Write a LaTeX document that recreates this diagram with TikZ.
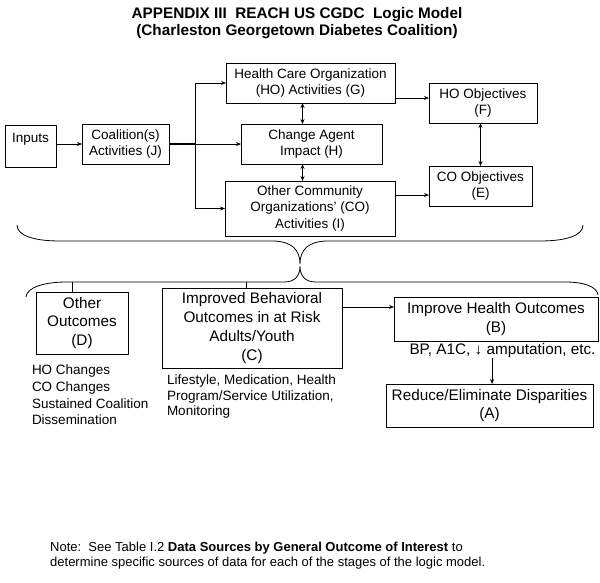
\documentclass[tikz,border=0pt]{standalone}
\usepackage{fontspec}
\setmainfont{Liberation Sans}
\usetikzlibrary{arrows.meta,calc}
\tikzset{
  boxs/.style={draw, line width=0.8pt, inner sep=0pt, outer sep=0pt, align=center,
    font=\fontsize{13.5}{16.5}\selectfont},
  boxl/.style={boxs, font=\fontsize{15.3}{18.7}\selectfont},
  txts/.style={inner sep=0pt, outer sep=0pt, align=left, font=\fontsize{13.5}{16.6}\selectfont},
  link/.style={line width=0.8pt, -{Stealth[length=5pt,width=4pt]}},
  dlink/.style={line width=0.8pt, {Stealth[length=5pt,width=4pt]}-{Stealth[length=5pt,width=4pt]}},
  plainln/.style={line width=0.8pt},
  bracecurve/.style={line width=0.8pt},
}
\begin{document}
\begin{tikzpicture}[x=1pt,y=-1pt]
\fill[white] (0,0) rectangle (600,583);
\useasboundingbox (0,0) rectangle (600,583);

% title
\node[inner sep=0pt, align=center, font=\bfseries\fontsize{15.3}{17}\selectfont] (title) at (297,23.5)
  {APPENDIX III\ \ REACH US CGDC\ \ Logic Model\\(Charleston Georgetown Diabetes Coalition)};

% upper boxes
\node[boxs, minimum width=51pt, minimum height=42pt] (inputs) at (30.5,146) {Inputs\\\mbox{}};
\node[boxs, minimum width=87pt, minimum height=40pt] (coal) at (125.5,144) {Coalition(s)\\Activities (J)};
\node[boxs, minimum width=169pt, minimum height=40pt] (g) at (310.5,83) {Health Care Organization\\(HO) Activities (G)};
\node[boxs, minimum width=141pt, minimum height=40pt] (h) at (311.5,144) {Change Agent\\Impact (H)};
\node[boxs, minimum width=170pt, minimum height=55pt] (i) at (310,208.5) {Other Community\\Organizations' (CO)\\Activities (I)};
\node[boxs, minimum width=108pt, minimum height=40pt] (f) at (483,103) {HO Objectives\\(F)};
\node[boxs, minimum width=103pt, minimum height=40pt] (e) at (480.5,186) {CO Objectives\\(E)};

% upper connectors
\coordinate (split) at (195,144);
\draw[link] (inputs.east |- coal.west) -- (coal.west);
\draw[line width=1.6pt] (coal.east) -- (split);
\draw[plainln] (split |- g.west) -- (split |- i.west);
\draw[link] (split |- g.west) -- (g.west);
\draw[link] (split) -- (h.west);
\draw[link] (split |- i.west) -- (i.west);
\draw[dlink] ([xshift=-9pt]h.north |- g.south) -- ([xshift=-9pt]h.north);
\draw[dlink] ([xshift=-9pt]h.south) -- ([xshift=-9pt]h.south |- i.north);
\draw[link] ([yshift=5pt]g.south east) -- ([yshift=5pt]g.south east -| f.west);
\draw[link] ([yshift=-9pt]e.west -| i.east) -- ([yshift=-9pt]e.west);
\draw[dlink] (e.north |- f.south) -- (e.north);

% braces
\draw[bracecurve] (17,225) .. controls (17,236) and (35,241) .. (60,241) -- (272,241)
  .. controls (292,241) and (300,250) .. (300,264)
  .. controls (300,250) and (308,241) .. (328,241) -- (540,241)
  .. controls (565,241) and (583,236) .. (583,225);
\draw[bracecurve] (26,297) .. controls (27,287) and (45,282) .. (67,282) -- (284,282)
  .. controls (295,282) and (300,276) .. (300,266)
  .. controls (300,276) and (305,282) .. (316,282) -- (565,282)
  .. controls (585,282) and (597,287) .. (598,295);

% lower boxes
\node[boxl, minimum width=92pt, minimum height=62pt] (d) at (82,323) {Other\\Outcomes\\(D)};
\node[boxl, minimum width=180pt, minimum height=80pt] (c) at (252,328) {Improved Behavioral\\Outcomes in at Risk\\Adults/Youth\\(C)};
\node[boxl, minimum width=204pt, minimum height=44pt] (b) at (496,319) {Improve Health Outcomes\\(B)};
\node[boxl, minimum width=207pt, minimum height=43pt] (a) at (489.5,405.5) {Reduce/Eliminate Disparities\\(A)};

\coordinate (tickd) at (72,282);
\coordinate (tickc) at (246,282);
\draw[plainln] (tickd) -- (tickd |- d.north);
\draw[plainln] (tickc) -- (tickc |- c.north);

\draw[link] ([yshift=12pt]b.west -| c.east) -- ([yshift=12pt]b.west);

\node[inner sep=0pt, font=\fontsize{15.3}{18.7}\selectfont] (bp) at (502.5,351) {BP, A1C, ↓ amputation, etc.};
\draw[link] ([xshift=2.5pt]a.north |- bp.south) -- ([xshift=2.5pt]a.north);

% sub texts
\node[txts, anchor=west] (dsub) at (32,395) {HO Changes\\CO Changes\\Sustained Coalition\\Dissemination};
\node[txts, anchor=west, font=\fontsize{13.5}{15.5}\selectfont] (csub) at (167,397) {Lifestyle, Medication, Health\\Program/Service Utilization,\\Monitoring};

% note
\node[inner sep=0pt, align=left, anchor=west, font=\fontsize{13}{15}\selectfont] (note) at (50,555.5)
  {Note:\ \ See Table I.2 \textbf{Data Sources by General Outcome of Interest} to\\determine specific sources of data for each of the stages of the logic model.};
\end{tikzpicture}
\end{document}
